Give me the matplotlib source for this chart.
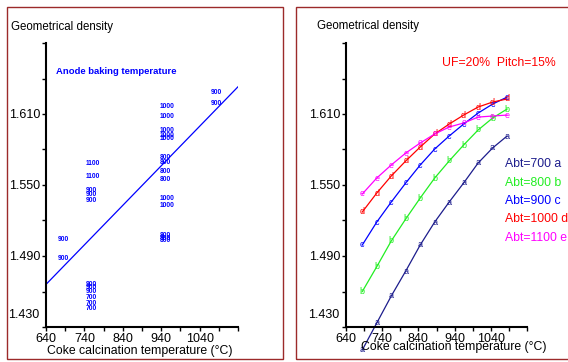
import matplotlib
matplotlib.use("Agg")
import matplotlib.pyplot as plt
from matplotlib.patches import Rectangle
import matplotlib.transforms as mtransforms

plt.rcParams["font.family"] = ["Liberation Sans", "DejaVu Sans"]

# ==============================
# Daten linkes Diagramm (Beschriftungen = Backtemperatur)
# ==============================
left_lbl_x = [1070, 1070,
              936, 936, 936, 936, 936, 936, 936, 936, 936, 936, 936, 936, 936, 936,
              743, 743, 743, 743, 743, 743, 743, 743, 743, 743, 743,
              671, 671]
left_lbl_y = [1.628, 1.619,
              1.616, 1.608, 1.596, 1.592, 1.589, 1.573, 1.569, 1.561, 1.555,
              1.539, 1.533, 1.507, 1.505, 1.503,
              1.568, 1.557, 1.545, 1.542, 1.537, 1.466, 1.463, 1.460, 1.455, 1.450, 1.446,
              1.504, 1.488]
left_lbl_txt = ["900", "900",
                "1000", "1000", "1000", "1000", "1000", "800", "800", "800", "800",
                "1000", "1000", "800", "800", "800",
                "1100", "1100", "900", "900", "900", "900", "900", "900", "700", "700", "700",
                "900", "900"]
fit_x = [640, 1140]
fit_y = [1.466, 1.633]

# ==============================
# Daten rechtes Diagramm
# ==============================
calc_temp = [685, 725, 765, 805, 845, 885, 925, 965, 1005, 1045, 1085]
dens_a = [1.4106, 1.4334, 1.4562, 1.4773, 1.4993, 1.5187, 1.5356, 1.5517, 1.5686, 1.5813, 1.5914]
dens_b = [1.4600, 1.4810, 1.5027, 1.5213, 1.5390, 1.5559, 1.5703, 1.5838, 1.5965, 1.6066, 1.6142]
dens_c = [1.4993, 1.5187, 1.5356, 1.5517, 1.5669, 1.5804, 1.5914, 1.6015, 1.6108, 1.6184, 1.6243]
dens_d = [1.5272, 1.5432, 1.5576, 1.5703, 1.5821, 1.5931, 1.6015, 1.6091, 1.6159, 1.6201, 1.6227]
dens_e = [1.5424, 1.5559, 1.5669, 1.5770, 1.5855, 1.5931, 1.5990, 1.6024, 1.6074, 1.6083, 1.6091]
serien = [
    (dens_a, "a", "#1c1c8c", "Abt=700 a"),
    (dens_b, "b", "#22ee22", "Abt=800 b"),
    (dens_c, "c", "#0000ff", "Abt=900 c"),
    (dens_d, "d", "#ff0000", "Abt=1000 d"),
    (dens_e, "e", "#ff00ff", "Abt=1100 e"),
]

W, H = 568, 362
fig = plt.figure(figsize=(W / 100, H / 100), dpi=100)


def fx(px):
    return px / W


def fy(py):
    return 1 - py / H


# Rahmen
rahmen = "#9c2a2a"
fig.patches.append(Rectangle((fx(7), fy(359)), (283 - 7) / W, (359 - 7) / H,
                             transform=fig.transFigure, fill=False, ec=rahmen, lw=1.0))
fig.patches.append(Rectangle((fx(296), fy(359)), (600 - 296) / W, (359 - 7) / H,
                             transform=fig.transFigure, fill=False, ec=rahmen, lw=1.0,
                             clip_on=False))


def achse(left_px, right_px):
    ax = fig.add_axes([fx(left_px), fy(327), (right_px - left_px) / W, (327 - 43) / H])
    ax.set_xlim(640, 1140)
    ax.set_ylim(1.43, 1.67)
    for s in ["top", "right"]:
        ax.spines[s].set_visible(False)
    for s in ["left", "bottom"]:
        ax.spines[s].set_linewidth(1.5)
    ax.set_xticks([640, 740, 840, 940, 1040])
    ax.set_xticks([690, 790, 890, 990, 1090, 1140], minor=True)
    ax.set_yticks([1.43, 1.49, 1.55, 1.61])
    ax.set_yticklabels(["", "1.490", "1.550", "1.610"])
    ax.set_yticks([1.46, 1.52, 1.58, 1.64, 1.67], minor=True)
    ax.tick_params(which="both", length=3, width=1, direction="out", labelsize=9, pad=1)
    trans = mtransforms.blended_transform_factory(ax.transAxes, ax.transData)
    ax.text(-0.035, 1.440, "1.430", transform=trans, ha="right", va="center", fontsize=9)
    return ax


# ==============================
# Linkes Diagramm
# ==============================
ax1 = achse(46, 238)
ax1.plot(fit_x, fit_y, color="#0000ff", lw=0.9)
for x, y, t in zip(left_lbl_x, left_lbl_y, left_lbl_txt):
    ax1.text(x, y, t, color="#0000ff", fontsize=4.8, fontweight="bold", ha="left", va="center")
fig.text(fx(11), fy(27), "Geometrical density", fontsize=8.3, va="center")
fig.text(fx(56), fy(72), "Anode baking temperature", fontsize=6.8, fontweight="bold",
         color="#0000ff", va="center")
fig.text(fx(140), fy(351), "Coke calcination temperature (°C)", fontsize=8.8,
         ha="center", va="center")

# ==============================
# Rechtes Diagramm
# ==============================
ax2 = achse(346, 527)
for dens, buchstabe, farbe, name in serien:
    ax2.plot(calc_temp, dens, color=farbe, lw=0.9, clip_on=False)
    for x, y in zip(calc_temp, dens):
        ax2.text(x, y, buchstabe, color=farbe, fontsize=6.5, ha="center", va="center",
                 clip_on=False)

fig.text(fx(317), fy(26), "Geometrical density", fontsize=8.3, va="center")
fig.text(fx(442), fy(63), "UF=20%  Pitch=15%", fontsize=8.8, color="#ff0000", va="center")
for i, (dens, buchstabe, farbe, name) in enumerate(serien):
    fig.text(fx(505), fy(164 + 18.5 * i), name, fontsize=8.8, color=farbe, va="center")
fig.text(fx(454), fy(347), "Coke calcination temperature (°C)", fontsize=8.8,
         ha="center", va="center")

fig.savefig("out.png", dpi=100)
